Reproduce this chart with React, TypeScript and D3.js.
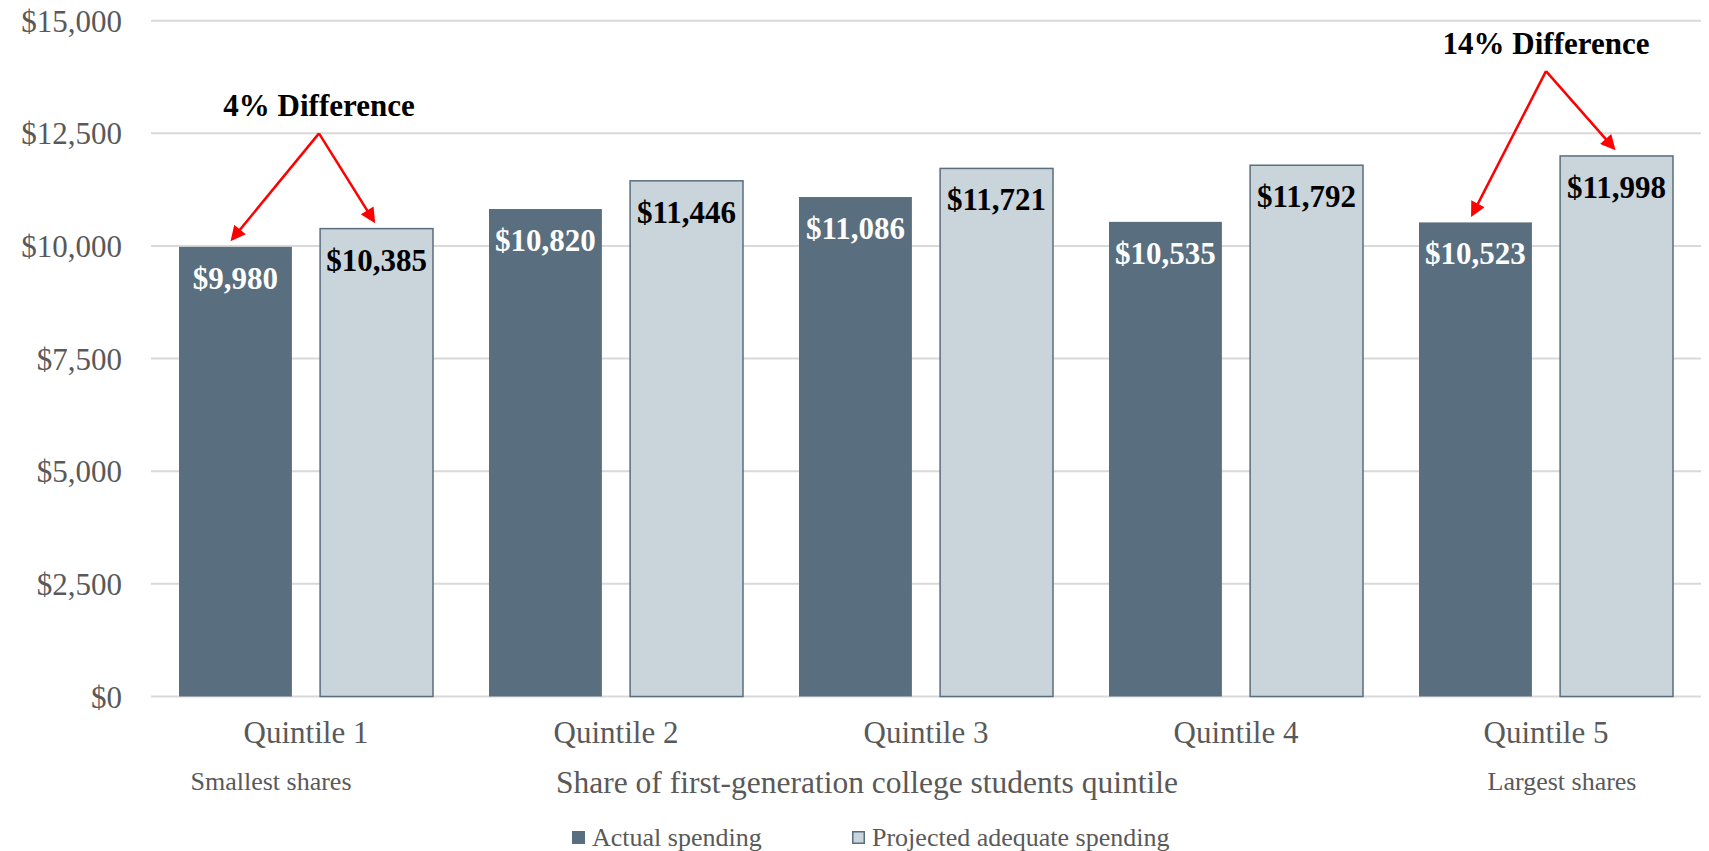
import React from "react";
import * as d3 from "d3";

const categories = ["Quintile 1", "Quintile 2", "Quintile 3", "Quintile 4", "Quintile 5"];
const seriesNames = ["Actual spending", "Projected adequate spending"];
const actual = [9980, 10820, 11086, 10535, 10523];
const projected = [10385, 11446, 11721, 11792, 11998];
const yTicks = [0, 2500, 5000, 7500, 10000, 12500, 15000];
const annotations = [
  { cat: "Quintile 1", label: "4% Difference", apex: 12500, dx: 13 },
  { cat: "Quintile 5", label: "14% Difference", apex: 13880, dx: 0 },
];
const endNotes = [
  { cat: "Quintile 1", label: "Smallest shares", dx: -35 },
  { cat: "Quintile 5", label: "Largest shares", dx: 16 },
];

const W = 1709;
const H = 851;
const FONT = "'Liberation Serif', 'Times New Roman', serif";
const DARK = "#596e7e";
const LIGHT = "#c9d4db";
const GRAY = "#595959";
const RED = "#ff0000";

export default function App() {
  const left = 151, right = 1701, top = 20.7, bottom = 696.5;
  const y = d3.scaleLinear().domain([0, 15000]).range([bottom, top]);
  const x0 = d3.scaleBand<string>().domain(categories).range([left, right]).paddingInner(56 / 310).paddingOuter(28 / 310 / (1) );
  // adjust so group width is 254
  const x1 = d3.scaleBand<number>().domain([0, 1]).range([0, x0.bandwidth()]).paddingInner(0.2);
  const series = [actual, projected];
  const fmt = (v: number) => "$" + d3.format(",")(v);

  const barX = (ci: number, si: number) => (x0(categories[ci]) as number) + (x1(si) as number);
  const bw = x1.bandwidth();

  const arrowLines: React.ReactNode[] = [];
  annotations.forEach((a, ai) => {
    const ci = categories.indexOf(a.cat);
    const gx = (x0(a.cat) as number) + x0.bandwidth() / 2 + a.dx;
    const gy = y(a.apex);
    [0, 1].forEach((si) => {
      const tx = barX(ci, si) + bw / 2 - 3;
      const ty = y(series[si][ci]) - 8;
      arrowLines.push(
        <line key={`a${ai}-${si}`} x1={gx} y1={gy} x2={tx} y2={ty} stroke={RED} strokeWidth={2.5} markerEnd="url(#arrowhead)" />
      );
    });
    arrowLines.push(
      <text key={`t${ai}`} x={gx} y={gy - 17} textAnchor="middle" fontFamily={FONT} fontWeight="bold" fontSize={31} fill="#000">
        {a.label}
      </text>
    );
  });

  return (
    <svg width={W} height={H} style={{ position: "absolute", left: 0, top: 0, background: "#fff" }}>
      <defs>
        <marker id="arrowhead" viewBox="0 0 10 10" refX="8" refY="5" markerWidth="6.5" markerHeight="6" orient="auto" markerUnits="strokeWidth">
          <path d="M0,0 L10,5 L0,10 z" fill={RED} />
        </marker>
      </defs>
      {yTicks.map((t) => (
        <g key={t}>
          <line x1={left} x2={right} y1={y(t)} y2={y(t)} stroke="#d9d9d9" strokeWidth={2} />
          <text x={122} y={y(t) + 11} textAnchor="end" fontFamily={FONT} fontSize={31} fill={GRAY}>
            {fmt(t)}
          </text>
        </g>
      ))}
      {categories.map((c, ci) => (
        <g key={c}>
          {series.map((s, si) => (
            <rect
              key={si}
              x={barX(ci, si)}
              y={y(s[ci])}
              width={bw}
              height={bottom - y(s[ci])}
              fill={si === 0 ? DARK : LIGHT}
              stroke={si === 0 ? "none" : DARK}
              strokeWidth={si === 0 ? 0 : 1.5}
            />
          ))}
          {series.map((s, si) => (
            <text
              key={"l" + si}
              x={barX(ci, si) + bw / 2}
              y={y(s[ci]) + 42}
              textAnchor="middle"
              fontFamily={FONT}
              fontWeight="bold"
              fontSize={31}
              fill={si === 0 ? "#ffffff" : "#000000"}
            >
              {fmt(s[ci])}
            </text>
          ))}
          <text x={(x0(c) as number) + x0.bandwidth() / 2} y={743} textAnchor="middle" fontFamily={FONT} fontSize={31} fill={GRAY}>
            {c}
          </text>
        </g>
      ))}
      {endNotes.map((n) => (
        <text key={n.label} x={(x0(n.cat) as number) + x0.bandwidth() / 2 + n.dx} y={790} textAnchor="middle" fontFamily={FONT} fontSize={26} fill={GRAY}>
          {n.label}
        </text>
      ))}
      <text x={556} y={793} fontFamily={FONT} fontSize={31.5} fill={GRAY}>
        Share of first-generation college students quintile
      </text>
      {arrowLines}
      <g>
        <rect x={572} y={831} width={13} height={13} fill={DARK} />
        <text x={592} y={846} fontFamily={FONT} fontSize={26} fill={GRAY}>{seriesNames[0]}</text>
        <rect x={852.75} y={831.75} width={11.5} height={11.5} fill={LIGHT} stroke={DARK} strokeWidth={1.5} />
        <text x={872} y={846} fontFamily={FONT} fontSize={26} fill={GRAY}>{seriesNames[1]}</text>
      </g>
    </svg>
  );
}
